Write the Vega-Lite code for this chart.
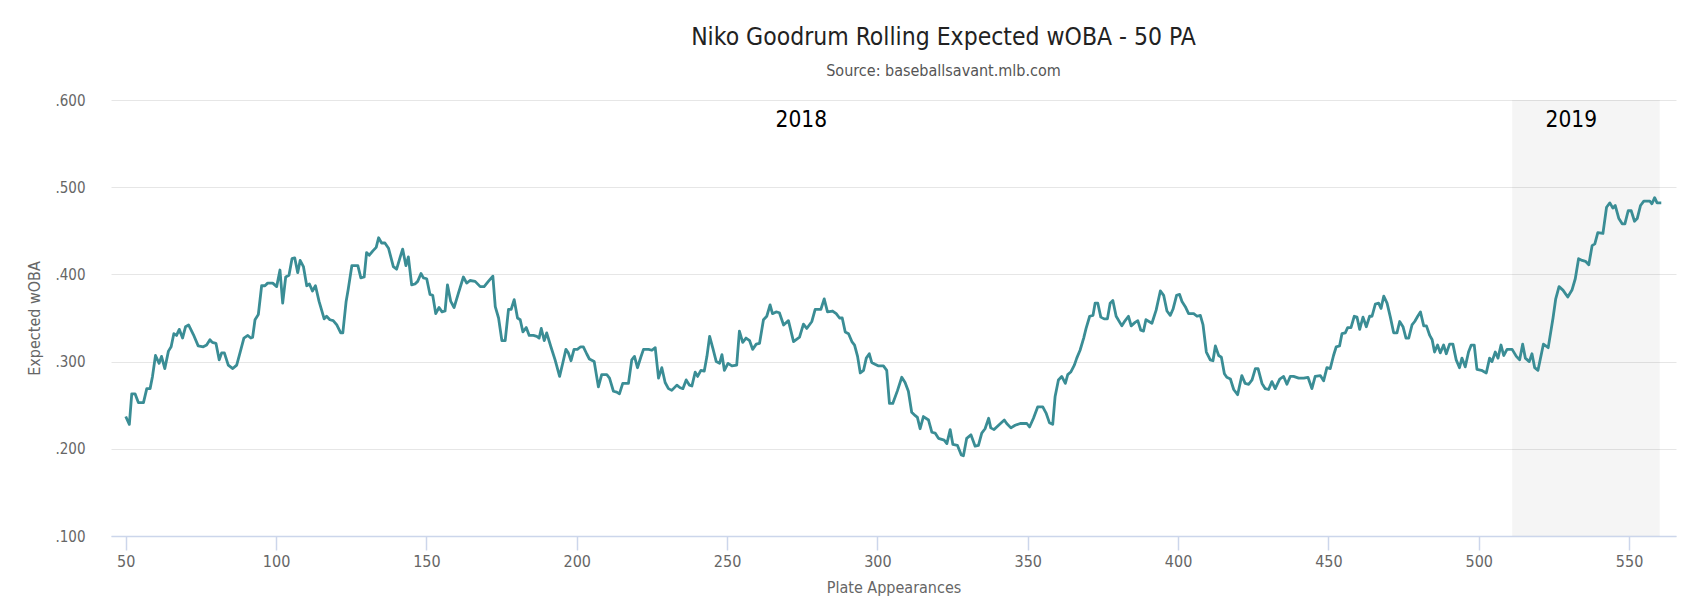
{
  "$schema": "https://vega.github.io/schema/vega-lite/v6.json",
  "background": "white",
  "autosize": "none",
  "padding": {"left": 111, "top": 100, "right": 17, "bottom": 79},
  "width": 1565,
  "height": 436,
  "title": {
    "text": "Niko Goodrum Rolling Expected wOBA - 50 PA",
    "subtitle": "Source: baseballsavant.mlb.com",
    "font": "'DejaVu Sans Condensed', Roboto",
    "fontSize": 24.5,
    "fontWeight": "normal",
    "color": "#222222",
    "subtitleFont": "'DejaVu Sans Condensed', Roboto",
    "subtitleFontSize": 16,
    "subtitleFontWeight": "normal",
    "subtitleColor": "#555555",
    "subtitlePadding": 13,
    "anchor": "middle",
    "dx": 50,
    "offset": 13
  },
  "config": {
    "view": {"stroke": null},
    "font": "'DejaVu Sans Condensed', Roboto"
  },
  "layer": [
    {
      "data": {"values": [{"start": 511.1, "end": 560.2}]},
      "mark": {"type": "rect", "color": "#000000", "opacity": 0.04},
      "encoding": {
        "x": {"field": "start", "type": "quantitative"},
        "x2": {"field": "end"},
        "y": {"datum": 0.6},
        "y2": {"datum": 0.1}
      }
    },
    {
      "mark": {"type": "rule", "color": "#ff1a1a", "strokeWidth": 2},
      "encoding": {"y": {"datum": 0.31}}
    },
    {
      "data": {
        "values": [
          {"pa": 50, "xwoba": 0.237}, {"pa": 51.2, "xwoba": 0.228}, {"pa": 52, "xwoba": 0.263}, {"pa": 53.1, "xwoba": 0.263},
          {"pa": 54.2, "xwoba": 0.253}, {"pa": 55.9, "xwoba": 0.253}, {"pa": 57, "xwoba": 0.269}, {"pa": 58.1, "xwoba": 0.269},
          {"pa": 58.9, "xwoba": 0.283}, {"pa": 59.9, "xwoba": 0.307}, {"pa": 61.1, "xwoba": 0.298}, {"pa": 61.9, "xwoba": 0.306},
          {"pa": 63, "xwoba": 0.292}, {"pa": 64.2, "xwoba": 0.312}, {"pa": 65.1, "xwoba": 0.317}, {"pa": 66, "xwoba": 0.332},
          {"pa": 66.9, "xwoba": 0.33}, {"pa": 67.8, "xwoba": 0.337}, {"pa": 68.9, "xwoba": 0.327}, {"pa": 69.9, "xwoba": 0.34},
          {"pa": 70.9, "xwoba": 0.342}, {"pa": 72.5, "xwoba": 0.331}, {"pa": 74.1, "xwoba": 0.318}, {"pa": 75.8, "xwoba": 0.317},
          {"pa": 76.9, "xwoba": 0.319}, {"pa": 78, "xwoba": 0.325}, {"pa": 78.8, "xwoba": 0.322}, {"pa": 80, "xwoba": 0.321},
          {"pa": 81.1, "xwoba": 0.302}, {"pa": 81.9, "xwoba": 0.31}, {"pa": 82.8, "xwoba": 0.31}, {"pa": 84.1, "xwoba": 0.296},
          {"pa": 85.6, "xwoba": 0.292}, {"pa": 86.9, "xwoba": 0.296}, {"pa": 88, "xwoba": 0.31}, {"pa": 89.3, "xwoba": 0.327},
          {"pa": 90.6, "xwoba": 0.33}, {"pa": 91.6, "xwoba": 0.327}, {"pa": 92.2, "xwoba": 0.328}, {"pa": 93, "xwoba": 0.348},
          {"pa": 94.1, "xwoba": 0.354}, {"pa": 95.2, "xwoba": 0.387}, {"pa": 96.3, "xwoba": 0.387}, {"pa": 97.2, "xwoba": 0.39},
          {"pa": 98.9, "xwoba": 0.39}, {"pa": 100.2, "xwoba": 0.386}, {"pa": 101.3, "xwoba": 0.405}, {"pa": 102.2, "xwoba": 0.367},
          {"pa": 103.2, "xwoba": 0.397}, {"pa": 104.3, "xwoba": 0.399}, {"pa": 105.3, "xwoba": 0.418}, {"pa": 106.2, "xwoba": 0.419},
          {"pa": 107.2, "xwoba": 0.402}, {"pa": 108, "xwoba": 0.416}, {"pa": 109.1, "xwoba": 0.409}, {"pa": 110.2, "xwoba": 0.387},
          {"pa": 111.1, "xwoba": 0.389}, {"pa": 112.1, "xwoba": 0.381}, {"pa": 113.1, "xwoba": 0.387}, {"pa": 114.3, "xwoba": 0.369},
          {"pa": 116, "xwoba": 0.349}, {"pa": 116.8, "xwoba": 0.352}, {"pa": 117.9, "xwoba": 0.348}, {"pa": 119, "xwoba": 0.347},
          {"pa": 120.2, "xwoba": 0.342}, {"pa": 121.5, "xwoba": 0.333}, {"pa": 122.2, "xwoba": 0.333}, {"pa": 123.3, "xwoba": 0.369},
          {"pa": 124, "xwoba": 0.383}, {"pa": 125.2, "xwoba": 0.41}, {"pa": 126.6, "xwoba": 0.41}, {"pa": 127.2, "xwoba": 0.41},
          {"pa": 128.2, "xwoba": 0.396}, {"pa": 129.3, "xwoba": 0.397}, {"pa": 130.1, "xwoba": 0.425}, {"pa": 131, "xwoba": 0.422},
          {"pa": 132.2, "xwoba": 0.427}, {"pa": 133.3, "xwoba": 0.431}, {"pa": 134.1, "xwoba": 0.442}, {"pa": 135.1, "xwoba": 0.436},
          {"pa": 136.2, "xwoba": 0.436}, {"pa": 137.4, "xwoba": 0.43}, {"pa": 139, "xwoba": 0.409}, {"pa": 140.1, "xwoba": 0.406},
          {"pa": 141.2, "xwoba": 0.419}, {"pa": 142.1, "xwoba": 0.429}, {"pa": 143.2, "xwoba": 0.41}, {"pa": 144, "xwoba": 0.42},
          {"pa": 145.1, "xwoba": 0.388}, {"pa": 146.2, "xwoba": 0.389}, {"pa": 147.1, "xwoba": 0.392}, {"pa": 148.2, "xwoba": 0.401},
          {"pa": 149, "xwoba": 0.396}, {"pa": 150.1, "xwoba": 0.395}, {"pa": 151.2, "xwoba": 0.377}, {"pa": 152.1, "xwoba": 0.376},
          {"pa": 153.1, "xwoba": 0.355}, {"pa": 154.2, "xwoba": 0.362}, {"pa": 155.2, "xwoba": 0.357}, {"pa": 156.2, "xwoba": 0.358},
          {"pa": 157, "xwoba": 0.388}, {"pa": 158.1, "xwoba": 0.369}, {"pa": 159.2, "xwoba": 0.362}, {"pa": 160.6, "xwoba": 0.378},
          {"pa": 162.3, "xwoba": 0.397}, {"pa": 163.4, "xwoba": 0.39}, {"pa": 164.5, "xwoba": 0.393}, {"pa": 166.2, "xwoba": 0.392},
          {"pa": 167.9, "xwoba": 0.386}, {"pa": 169.2, "xwoba": 0.386}, {"pa": 170.6, "xwoba": 0.392}, {"pa": 172.1, "xwoba": 0.398},
          {"pa": 172.9, "xwoba": 0.363}, {"pa": 174, "xwoba": 0.35}, {"pa": 175.1, "xwoba": 0.324}, {"pa": 176.2, "xwoba": 0.324},
          {"pa": 177.3, "xwoba": 0.36}, {"pa": 178.2, "xwoba": 0.36}, {"pa": 179.2, "xwoba": 0.371}, {"pa": 180.3, "xwoba": 0.35},
          {"pa": 181.2, "xwoba": 0.348}, {"pa": 182.1, "xwoba": 0.334}, {"pa": 183.2, "xwoba": 0.339}, {"pa": 184.2, "xwoba": 0.33},
          {"pa": 185.6, "xwoba": 0.33}, {"pa": 186.7, "xwoba": 0.329}, {"pa": 187.5, "xwoba": 0.327}, {"pa": 188.2, "xwoba": 0.338},
          {"pa": 189.2, "xwoba": 0.324}, {"pa": 190, "xwoba": 0.333}, {"pa": 191.4, "xwoba": 0.317}, {"pa": 192.8, "xwoba": 0.302},
          {"pa": 194.3, "xwoba": 0.283}, {"pa": 195.4, "xwoba": 0.299}, {"pa": 196.4, "xwoba": 0.314}, {"pa": 197.2, "xwoba": 0.31},
          {"pa": 198.1, "xwoba": 0.301}, {"pa": 199.1, "xwoba": 0.314}, {"pa": 200.2, "xwoba": 0.314}, {"pa": 201.3, "xwoba": 0.317},
          {"pa": 202.2, "xwoba": 0.317}, {"pa": 203.3, "xwoba": 0.309}, {"pa": 204.2, "xwoba": 0.303}, {"pa": 205.8, "xwoba": 0.3},
          {"pa": 207.2, "xwoba": 0.271}, {"pa": 208.3, "xwoba": 0.285}, {"pa": 210, "xwoba": 0.285}, {"pa": 210.9, "xwoba": 0.281},
          {"pa": 212.2, "xwoba": 0.266}, {"pa": 213.3, "xwoba": 0.265}, {"pa": 214.2, "xwoba": 0.263}, {"pa": 215.3, "xwoba": 0.275},
          {"pa": 217.2, "xwoba": 0.275}, {"pa": 218.3, "xwoba": 0.302}, {"pa": 219.2, "xwoba": 0.306}, {"pa": 220.2, "xwoba": 0.293},
          {"pa": 221.3, "xwoba": 0.305}, {"pa": 222.2, "xwoba": 0.314}, {"pa": 223.9, "xwoba": 0.314}, {"pa": 225, "xwoba": 0.313},
          {"pa": 226.1, "xwoba": 0.316}, {"pa": 227.2, "xwoba": 0.281}, {"pa": 228.3, "xwoba": 0.293}, {"pa": 229.4, "xwoba": 0.276},
          {"pa": 230.5, "xwoba": 0.269}, {"pa": 231.6, "xwoba": 0.267}, {"pa": 233.3, "xwoba": 0.273}, {"pa": 234.4, "xwoba": 0.27},
          {"pa": 235.3, "xwoba": 0.269}, {"pa": 236.4, "xwoba": 0.279}, {"pa": 237.5, "xwoba": 0.273}, {"pa": 238.3, "xwoba": 0.272},
          {"pa": 239.4, "xwoba": 0.288}, {"pa": 240.2, "xwoba": 0.283}, {"pa": 241.3, "xwoba": 0.29}, {"pa": 242.4, "xwoba": 0.289},
          {"pa": 243.3, "xwoba": 0.306}, {"pa": 244.2, "xwoba": 0.329}, {"pa": 245.3, "xwoba": 0.315}, {"pa": 246.4, "xwoba": 0.3},
          {"pa": 247.5, "xwoba": 0.298}, {"pa": 248.3, "xwoba": 0.308}, {"pa": 249.1, "xwoba": 0.29}, {"pa": 250.3, "xwoba": 0.298},
          {"pa": 251.6, "xwoba": 0.295}, {"pa": 253.2, "xwoba": 0.296}, {"pa": 254.1, "xwoba": 0.335}, {"pa": 255.2, "xwoba": 0.322},
          {"pa": 256.3, "xwoba": 0.327}, {"pa": 257.5, "xwoba": 0.324}, {"pa": 258.5, "xwoba": 0.314}, {"pa": 259.7, "xwoba": 0.32},
          {"pa": 260.8, "xwoba": 0.321}, {"pa": 262.1, "xwoba": 0.348}, {"pa": 263.2, "xwoba": 0.352}, {"pa": 264.3, "xwoba": 0.365},
          {"pa": 265.1, "xwoba": 0.355}, {"pa": 266.3, "xwoba": 0.357}, {"pa": 267.4, "xwoba": 0.356}, {"pa": 268.8, "xwoba": 0.342},
          {"pa": 270.4, "xwoba": 0.347}, {"pa": 272.1, "xwoba": 0.323}, {"pa": 274.1, "xwoba": 0.328}, {"pa": 275.4, "xwoba": 0.343},
          {"pa": 276.5, "xwoba": 0.338}, {"pa": 278.2, "xwoba": 0.346}, {"pa": 279.3, "xwoba": 0.36}, {"pa": 281.2, "xwoba": 0.36},
          {"pa": 282.3, "xwoba": 0.372}, {"pa": 283.4, "xwoba": 0.357}, {"pa": 285.1, "xwoba": 0.358}, {"pa": 286.3, "xwoba": 0.355},
          {"pa": 287.4, "xwoba": 0.35}, {"pa": 288.3, "xwoba": 0.35}, {"pa": 289.3, "xwoba": 0.334}, {"pa": 290.4, "xwoba": 0.332},
          {"pa": 291.5, "xwoba": 0.323}, {"pa": 292.4, "xwoba": 0.319}, {"pa": 293.4, "xwoba": 0.306}, {"pa": 294.3, "xwoba": 0.287},
          {"pa": 295.4, "xwoba": 0.29}, {"pa": 296.3, "xwoba": 0.304}, {"pa": 297.3, "xwoba": 0.309}, {"pa": 298.1, "xwoba": 0.299},
          {"pa": 299.2, "xwoba": 0.297}, {"pa": 300.4, "xwoba": 0.295}, {"pa": 302, "xwoba": 0.295}, {"pa": 303.1, "xwoba": 0.29},
          {"pa": 304, "xwoba": 0.252}, {"pa": 305.1, "xwoba": 0.252}, {"pa": 306.7, "xwoba": 0.267}, {"pa": 308.1, "xwoba": 0.282},
          {"pa": 309.2, "xwoba": 0.276}, {"pa": 310.3, "xwoba": 0.266}, {"pa": 311.4, "xwoba": 0.242}, {"pa": 312.6, "xwoba": 0.238},
          {"pa": 313.3, "xwoba": 0.236}, {"pa": 314.2, "xwoba": 0.223}, {"pa": 315.3, "xwoba": 0.237}, {"pa": 317, "xwoba": 0.233},
          {"pa": 318.1, "xwoba": 0.219}, {"pa": 319.2, "xwoba": 0.218}, {"pa": 320.3, "xwoba": 0.212}, {"pa": 322.2, "xwoba": 0.21},
          {"pa": 323.1, "xwoba": 0.206}, {"pa": 324.2, "xwoba": 0.222}, {"pa": 325.1, "xwoba": 0.205}, {"pa": 326.6, "xwoba": 0.204},
          {"pa": 327.9, "xwoba": 0.193}, {"pa": 328.6, "xwoba": 0.192}, {"pa": 329.7, "xwoba": 0.212}, {"pa": 331.1, "xwoba": 0.216},
          {"pa": 332.5, "xwoba": 0.203}, {"pa": 333.6, "xwoba": 0.204}, {"pa": 334.7, "xwoba": 0.218}, {"pa": 335.8, "xwoba": 0.223},
          {"pa": 337, "xwoba": 0.235}, {"pa": 337.7, "xwoba": 0.224}, {"pa": 338.8, "xwoba": 0.222}, {"pa": 340.3, "xwoba": 0.227},
          {"pa": 342.2, "xwoba": 0.233}, {"pa": 343, "xwoba": 0.229}, {"pa": 344.4, "xwoba": 0.224}, {"pa": 345.8, "xwoba": 0.227},
          {"pa": 347.5, "xwoba": 0.229}, {"pa": 349.7, "xwoba": 0.229}, {"pa": 350.6, "xwoba": 0.225}, {"pa": 351.9, "xwoba": 0.235},
          {"pa": 353.3, "xwoba": 0.248}, {"pa": 355, "xwoba": 0.248}, {"pa": 356.1, "xwoba": 0.241}, {"pa": 357.2, "xwoba": 0.23},
          {"pa": 358.3, "xwoba": 0.228}, {"pa": 359.1, "xwoba": 0.26}, {"pa": 360.2, "xwoba": 0.279}, {"pa": 361.3, "xwoba": 0.283},
          {"pa": 362.5, "xwoba": 0.275}, {"pa": 363.3, "xwoba": 0.285}, {"pa": 364.3, "xwoba": 0.288}, {"pa": 365.5, "xwoba": 0.296},
          {"pa": 366.3, "xwoba": 0.304}, {"pa": 367.4, "xwoba": 0.313}, {"pa": 368.6, "xwoba": 0.327}, {"pa": 369.4, "xwoba": 0.338},
          {"pa": 370.6, "xwoba": 0.352}, {"pa": 371.7, "xwoba": 0.353}, {"pa": 372.4, "xwoba": 0.367}, {"pa": 373.3, "xwoba": 0.367},
          {"pa": 374.3, "xwoba": 0.351}, {"pa": 375.4, "xwoba": 0.349}, {"pa": 376.5, "xwoba": 0.349}, {"pa": 377.4, "xwoba": 0.367},
          {"pa": 378.3, "xwoba": 0.37}, {"pa": 379.4, "xwoba": 0.352}, {"pa": 381.3, "xwoba": 0.341}, {"pa": 382.4, "xwoba": 0.347},
          {"pa": 383.5, "xwoba": 0.352}, {"pa": 384.4, "xwoba": 0.341}, {"pa": 385.7, "xwoba": 0.345}, {"pa": 386.6, "xwoba": 0.347},
          {"pa": 387.6, "xwoba": 0.336}, {"pa": 388.5, "xwoba": 0.335}, {"pa": 389.3, "xwoba": 0.348}, {"pa": 391.3, "xwoba": 0.344},
          {"pa": 392.7, "xwoba": 0.359}, {"pa": 394.1, "xwoba": 0.381}, {"pa": 395.2, "xwoba": 0.376}, {"pa": 396.3, "xwoba": 0.358},
          {"pa": 397.4, "xwoba": 0.353}, {"pa": 398.3, "xwoba": 0.36}, {"pa": 399.5, "xwoba": 0.376}, {"pa": 400.5, "xwoba": 0.377},
          {"pa": 401.3, "xwoba": 0.369}, {"pa": 402.4, "xwoba": 0.363}, {"pa": 403.5, "xwoba": 0.355}, {"pa": 405.2, "xwoba": 0.355},
          {"pa": 406.3, "xwoba": 0.352}, {"pa": 407.4, "xwoba": 0.353}, {"pa": 408.3, "xwoba": 0.342}, {"pa": 409.4, "xwoba": 0.311},
          {"pa": 410.7, "xwoba": 0.302}, {"pa": 411.6, "xwoba": 0.301}, {"pa": 412.4, "xwoba": 0.318}, {"pa": 413.5, "xwoba": 0.307},
          {"pa": 414.4, "xwoba": 0.305}, {"pa": 415.4, "xwoba": 0.286}, {"pa": 416.2, "xwoba": 0.282}, {"pa": 417.4, "xwoba": 0.28},
          {"pa": 418.5, "xwoba": 0.268}, {"pa": 419.8, "xwoba": 0.262}, {"pa": 421.2, "xwoba": 0.284}, {"pa": 422.3, "xwoba": 0.275},
          {"pa": 423.5, "xwoba": 0.274}, {"pa": 424.6, "xwoba": 0.279}, {"pa": 425.7, "xwoba": 0.292}, {"pa": 426.6, "xwoba": 0.292},
          {"pa": 427.9, "xwoba": 0.275}, {"pa": 429, "xwoba": 0.269}, {"pa": 430.1, "xwoba": 0.268}, {"pa": 431.2, "xwoba": 0.277},
          {"pa": 432.3, "xwoba": 0.269}, {"pa": 433.8, "xwoba": 0.28}, {"pa": 435.1, "xwoba": 0.283}, {"pa": 436.2, "xwoba": 0.274},
          {"pa": 437.3, "xwoba": 0.283}, {"pa": 438.4, "xwoba": 0.283}, {"pa": 440.1, "xwoba": 0.281}, {"pa": 441.8, "xwoba": 0.281},
          {"pa": 443.2, "xwoba": 0.282}, {"pa": 444.5, "xwoba": 0.269}, {"pa": 445.6, "xwoba": 0.283}, {"pa": 447.3, "xwoba": 0.284},
          {"pa": 448.4, "xwoba": 0.278}, {"pa": 449.5, "xwoba": 0.293}, {"pa": 450.6, "xwoba": 0.292}, {"pa": 451.7, "xwoba": 0.307},
          {"pa": 452.6, "xwoba": 0.317}, {"pa": 453.7, "xwoba": 0.318}, {"pa": 454.5, "xwoba": 0.332}, {"pa": 455.6, "xwoba": 0.333},
          {"pa": 456.4, "xwoba": 0.339}, {"pa": 457.5, "xwoba": 0.339}, {"pa": 458.6, "xwoba": 0.352}, {"pa": 459.5, "xwoba": 0.351},
          {"pa": 460.4, "xwoba": 0.337}, {"pa": 461.5, "xwoba": 0.351}, {"pa": 462.6, "xwoba": 0.34}, {"pa": 463.7, "xwoba": 0.352},
          {"pa": 464.5, "xwoba": 0.352}, {"pa": 465.6, "xwoba": 0.366}, {"pa": 466.7, "xwoba": 0.367}, {"pa": 467.5, "xwoba": 0.361},
          {"pa": 468.4, "xwoba": 0.375}, {"pa": 469.5, "xwoba": 0.367}, {"pa": 470.6, "xwoba": 0.351}, {"pa": 471.7, "xwoba": 0.333},
          {"pa": 472.8, "xwoba": 0.333}, {"pa": 473.7, "xwoba": 0.346}, {"pa": 474.8, "xwoba": 0.34}, {"pa": 475.8, "xwoba": 0.327},
          {"pa": 476.7, "xwoba": 0.327}, {"pa": 477.8, "xwoba": 0.342}, {"pa": 478.7, "xwoba": 0.346}, {"pa": 479.7, "xwoba": 0.352},
          {"pa": 480.6, "xwoba": 0.357}, {"pa": 481.7, "xwoba": 0.341}, {"pa": 482.6, "xwoba": 0.341}, {"pa": 483.7, "xwoba": 0.33},
          {"pa": 484.5, "xwoba": 0.325}, {"pa": 485.3, "xwoba": 0.311}, {"pa": 486.3, "xwoba": 0.319}, {"pa": 487.2, "xwoba": 0.31},
          {"pa": 488.3, "xwoba": 0.319}, {"pa": 489.2, "xwoba": 0.309}, {"pa": 490.3, "xwoba": 0.32}, {"pa": 491.4, "xwoba": 0.32},
          {"pa": 492.5, "xwoba": 0.302}, {"pa": 493.6, "xwoba": 0.293}, {"pa": 494.4, "xwoba": 0.304}, {"pa": 495.5, "xwoba": 0.294},
          {"pa": 496.6, "xwoba": 0.311}, {"pa": 497.5, "xwoba": 0.319}, {"pa": 498.5, "xwoba": 0.319}, {"pa": 499.4, "xwoba": 0.291},
          {"pa": 500.9, "xwoba": 0.29}, {"pa": 502.5, "xwoba": 0.287}, {"pa": 503.6, "xwoba": 0.304}, {"pa": 504.4, "xwoba": 0.3},
          {"pa": 505.5, "xwoba": 0.311}, {"pa": 506.4, "xwoba": 0.304}, {"pa": 507.4, "xwoba": 0.319}, {"pa": 508.3, "xwoba": 0.307},
          {"pa": 509.4, "xwoba": 0.314}, {"pa": 511.1, "xwoba": 0.314}, {"pa": 512.5, "xwoba": 0.306}, {"pa": 513.6, "xwoba": 0.302},
          {"pa": 514.6, "xwoba": 0.32}, {"pa": 515.5, "xwoba": 0.304}, {"pa": 516.8, "xwoba": 0.3}, {"pa": 517.7, "xwoba": 0.309},
          {"pa": 518.6, "xwoba": 0.293}, {"pa": 519.7, "xwoba": 0.29}, {"pa": 521.5, "xwoba": 0.32}, {"pa": 523.1, "xwoba": 0.316},
          {"pa": 524.7, "xwoba": 0.35}, {"pa": 525.6, "xwoba": 0.372}, {"pa": 526.7, "xwoba": 0.386}, {"pa": 528, "xwoba": 0.382},
          {"pa": 529.6, "xwoba": 0.374}, {"pa": 531, "xwoba": 0.382}, {"pa": 532.1, "xwoba": 0.395}, {"pa": 533.2, "xwoba": 0.418},
          {"pa": 534.4, "xwoba": 0.416}, {"pa": 535.5, "xwoba": 0.415}, {"pa": 536.6, "xwoba": 0.411}, {"pa": 537.7, "xwoba": 0.433},
          {"pa": 538.6, "xwoba": 0.435}, {"pa": 539.6, "xwoba": 0.448}, {"pa": 541.3, "xwoba": 0.447}, {"pa": 542.5, "xwoba": 0.477},
          {"pa": 543.6, "xwoba": 0.482}, {"pa": 544.6, "xwoba": 0.476}, {"pa": 545.4, "xwoba": 0.479}, {"pa": 546.6, "xwoba": 0.464},
          {"pa": 547.7, "xwoba": 0.458}, {"pa": 548.6, "xwoba": 0.458}, {"pa": 549.7, "xwoba": 0.473}, {"pa": 550.7, "xwoba": 0.473},
          {"pa": 551.8, "xwoba": 0.461}, {"pa": 552.7, "xwoba": 0.464}, {"pa": 553.8, "xwoba": 0.479}, {"pa": 554.9, "xwoba": 0.484},
          {"pa": 556, "xwoba": 0.484}, {"pa": 556.9, "xwoba": 0.484}, {"pa": 557.6, "xwoba": 0.481}, {"pa": 558.5, "xwoba": 0.488},
          {"pa": 559.3, "xwoba": 0.482}, {"pa": 560.7, "xwoba": 0.482}
        ]
      },
      "mark": {"type": "line", "color": "#3a8d95", "strokeWidth": 2.8, "strokeJoin": "round"},
      "encoding": {
        "x": {
          "field": "pa",
          "type": "quantitative",
          "scale": {"domain": [45.1, 565.6], "nice": false, "zero": false},
          "axis": {
            "title": "Plate Appearances",
            "values": [50, 100, 150, 200, 250, 300, 350, 400, 450, 500, 550],
            "grid": false,
            "domainColor": "#ccd6eb",
            "domainWidth": 1.5,
            "tickColor": "#ccd6eb",
            "tickWidth": 1.5,
            "tickSize": 14,
            "labelPadding": 3,
            "labelFontSize": 16,
            "labelColor": "#666666",
            "titleFontSize": 16,
            "titleFontWeight": "normal",
            "titleColor": "#666666",
            "titlePadding": 10
          }
        },
        "y": {
          "field": "xwoba",
          "type": "quantitative",
          "scale": {"domain": [0.1, 0.6], "nice": false, "zero": false},
          "axis": {
            "title": "Expected wOBA",
            "values": [0.1, 0.2, 0.3, 0.4, 0.5, 0.6],
            "labelExpr": "slice(format(datum.value, '.3f'), 1)",
            "grid": true,
            "gridColor": "#e6e6e6",
            "domain": false,
            "ticks": false,
            "labelPadding": 26,
            "labelFontSize": 15,
            "labelColor": "#666666",
            "titleFontSize": 16,
            "titleFontWeight": "normal",
            "titleColor": "#666666",
            "titlePadding": 12
          }
        }
      }
    },
    {
      "data": {"values": [{"pa": 274.7, "label": "2018"}, {"pa": 530.8, "label": "2019"}]},
      "mark": {"type": "text", "fontSize": 22.5, "color": "#000000", "baseline": "alphabetic", "align": "center", "dy": 27},
      "encoding": {
        "x": {"field": "pa", "type": "quantitative"},
        "y": {"datum": 0.6},
        "text": {"field": "label"}
      }
    }
  ]
}
